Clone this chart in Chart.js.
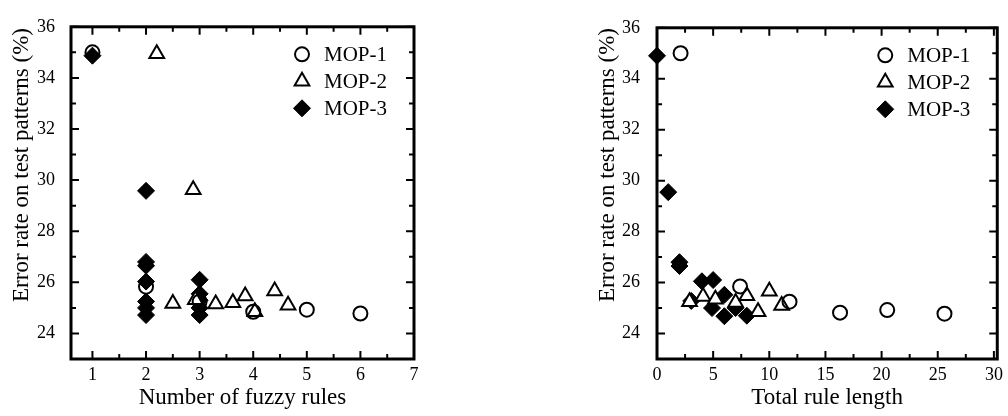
<!DOCTYPE html>
<html>
<head>
<meta charset="utf-8">
<script src="https://cdn.jsdelivr.net/npm/chart.js@4/dist/chart.umd.min.js"></script>
<style>
  html, body { margin: 0; padding: 0; background: #fff; }
  #wrap { position: relative; width: 1008px; height: 416px; }
  .pane { position: absolute; top: 0; width: 504px; height: 416px; }
  #paneL { left: 0; }
  #paneR { left: 504px; }
</style>
</head>
<body>
<div id="wrap">
  <div class="pane" id="paneL"><canvas id="rulesChart" width="504" height="416"></canvas></div>
  <div class="pane" id="paneR"><canvas id="lengthChart" width="504" height="416"></canvas></div>
</div>
<script>
// Series labels
const seriesNames = ['MOP-1', 'MOP-2', 'MOP-3'];

// Left panel: number of fuzzy rules vs. test error rate (%)
const rulesMop1X = [1, 2, 3, 4, 5, 6];
const rulesMop1Y = [35.0, 25.83, 25.25, 24.85, 24.93, 24.78];
const rulesMop2X = [2.2, 2.88, 2.5, 2.92, 3.3, 3.62, 3.85, 4.4, 4.65, 4.03];
const rulesMop2Y = [34.95, 29.62, 25.17, 25.32, 25.15, 25.2, 25.47, 25.66, 25.1, 24.85];
const rulesMop3X = [1, 2, 2, 2, 2, 2, 2, 2, 3, 3, 3, 3, 3];
const rulesMop3Y = [34.87, 29.58, 26.8, 26.65, 26.03, 25.25, 25.0, 24.72, 26.1, 25.55, 25.3, 25.0, 24.72];

// Right panel: total rule length vs. test error rate (%)
const lengthMop1X = [2.1, 7.4, 11.8, 16.3, 20.5, 25.6];
const lengthMop1Y = [35.0, 25.85, 25.25, 24.82, 24.92, 24.78];
const lengthMop2X = [2.9, 4.1, 5.2, 7.0, 8.0, 10.0, 11.1, 9.0];
const lengthMop2Y = [25.25, 25.45, 25.35, 25.22, 25.48, 25.66, 25.1, 24.85];
const lengthMop3X = [0, 1.0, 2.0, 2.0, 3.05, 4.0, 5.0, 4.9, 6.0, 6.0, 7.0, 8.0];
const lengthMop3Y = [34.9, 29.55, 26.8, 26.65, 25.28, 26.05, 26.1, 25.0, 25.52, 24.68, 25.0, 24.7];

// Tick values
const errorTicks = [24, 26, 28, 30, 32, 34, 36];
const errorMinor = [23, 25, 27, 29, 31, 33, 35];
const rulesTicks = [1, 2, 3, 4, 5, 6, 7];
const rulesMinor = [1.5, 2.5, 3.5, 4.5, 5.5, 6.5];
const lengthTicks = [0, 5, 10, 15, 20, 25, 30];
const lengthMinor = [2.5, 7.5, 12.5, 17.5, 22.5, 27.5];

const yTitleText = 'Error rate on test patterns (%)';
const FONT = "'Liberation Serif', 'Times New Roman', serif";

function pts(xs, ys) { return xs.map((x, i) => ({ x: x, y: ys[i] })); }

function seriesStyle(i) {
  if (i === 0) return { pointStyle: 'circle', pointRadius: 7, pointBorderWidth: 2,
    pointBackgroundColor: 'rgba(255,255,255,0)', pointBorderColor: '#000' };
  if (i === 1) return { pointStyle: 'triangle', pointRadius: 8.5, pointBorderWidth: 2,
    pointBackgroundColor: '#fff', pointBorderColor: '#000' };
  return { pointStyle: 'rectRot', pointRadius: 8.5, pointBorderWidth: 1,
    pointBackgroundColor: '#000', pointBorderColor: '#000' };
}

// Box frame plus inward tick marks on all four sides
const frameTicks = {
  id: 'frameTicks',
  beforeDatasetsDraw(chart, args, opts) {
    const { ctx, chartArea: a, scales: { x, y } } = chart;
    ctx.save();
    ctx.strokeStyle = '#000';
    ctx.lineWidth = 2;
    const major = 8, minor = 5;
    const xTick = (v, len) => {
      const p = x.getPixelForValue(v);
      ctx.beginPath();
      ctx.moveTo(p, a.bottom); ctx.lineTo(p, a.bottom - len);
      ctx.moveTo(p, a.top); ctx.lineTo(p, a.top + len);
      ctx.stroke();
    };
    const yTick = (v, len) => {
      const p = y.getPixelForValue(v);
      ctx.beginPath();
      ctx.moveTo(a.left, p); ctx.lineTo(a.left + len, p);
      ctx.moveTo(a.right, p); ctx.lineTo(a.right - len, p);
      ctx.stroke();
    };
    opts.xMajor.forEach(v => xTick(v, major));
    opts.xMinor.forEach(v => xTick(v, minor));
    opts.yMajor.forEach(v => yTick(v, major));
    opts.yMinor.forEach(v => yTick(v, minor));
    ctx.lineWidth = 3;
    ctx.strokeRect(a.left, a.top, a.right - a.left, a.bottom - a.top);
    ctx.restore();
  },
  afterDraw(chart, args, opts) {
    // vertical axis title
    const { ctx } = chart;
    ctx.save();
    ctx.translate(opts.titleX, opts.titleY);
    ctx.rotate(-Math.PI / 2);
    ctx.fillStyle = '#000';
    ctx.font = '23px ' + FONT;
    ctx.textAlign = 'center';
    ctx.textBaseline = 'middle';
    ctx.fillText(yTitleText, 0, 0);
    ctx.restore();
  }
};

// Legend drawn inside the plot, upper right
const innerLegend = {
  id: 'innerLegend',
  afterDatasetsDraw(chart) {
    const { ctx, chartArea: a } = chart;
    ctx.save();
    chart.data.datasets.forEach((ds, i) => {
      const mx = a.right - 112;
      const my = a.top + 27.5 + i * 27;
      ctx.fillStyle = ds.pointBackgroundColor;
      ctx.strokeStyle = ds.pointBorderColor;
      ctx.lineWidth = ds.pointBorderWidth;
      if (Chart.helpers && Chart.helpers.drawPoint) {
        Chart.helpers.drawPoint(ctx, { pointStyle: ds.pointStyle, radius: ds.pointRadius,
          borderWidth: ds.pointBorderWidth, rotation: 0 }, mx, my);
      }
      ctx.fillStyle = '#000';
      ctx.font = '21px ' + FONT;
      ctx.textAlign = 'left';
      ctx.textBaseline = 'middle';
      ctx.fillText(ds.label, mx + 22, my + 1);
    });
    ctx.restore();
  }
};

function makeChart(id, cfg) {
  const datasets = cfg.series.map((s, i) => Object.assign({
    label: seriesNames[i], data: pts(s[0], s[1]), clip: false, showLine: false
  }, seriesStyle(i)));
  return new Chart(document.getElementById(id), {
    type: 'scatter',
    data: { datasets: datasets },
    plugins: [frameTicks, innerLegend],
    options: {
      responsive: false,
      animation: false,
      events: [],
      layout: { padding: cfg.padding },
      plugins: {
        legend: { display: false },
        tooltip: { enabled: false },
        frameTicks: { xMajor: cfg.xTicks, xMinor: cfg.xMinor, yMajor: errorTicks, yMinor: errorMinor,
          titleX: cfg.yTitleX, titleY: 165 }
      },
      scales: {
        x: {
          type: 'linear', min: cfg.xMin, max: cfg.xMax,
          grid: { display: false, drawTicks: false },
          border: { display: false },
          afterBuildTicks: sc => { sc.ticks = cfg.xTicks.map(v => ({ value: v })); },
          afterFit: sc => { sc.height = 57; },
          ticks: { color: '#000', font: { family: FONT, size: 18 }, padding: 5, maxRotation: 0,
            callback: v => String(v) },
          title: { display: true, text: cfg.xTitle, color: '#000',
            font: { family: FONT, size: 23 }, padding: { top: 0, bottom: 4 } }
        },
        y: {
          type: 'linear', min: 23, max: 36,
          grid: { display: false, drawTicks: false },
          border: { display: false },
          afterBuildTicks: sc => { sc.ticks = errorTicks.map(v => ({ value: v })); },
          afterFit: sc => { sc.width = cfg.yWidth; },
          ticks: { color: '#000', font: { family: FONT, size: 18 }, padding: cfg.yPad,
            callback: v => String(v) },
          title: { display: false }
        }
      }
    }
  });
}

makeChart('rulesChart', {
  series: [[rulesMop1X, rulesMop1Y], [rulesMop2X, rulesMop2Y], [rulesMop3X, rulesMop3Y]],
  xMin: 0.6, xMax: 7, xTicks: rulesTicks, xMinor: rulesMinor,
  xTitle: 'Number of fuzzy rules',
  padding: { left: 0, right: 90, top: 13.5, bottom: 0 },
  yWidth: 71, yPad: 16, yTitleX: 22
});

makeChart('lengthChart', {
  series: [[lengthMop1X, lengthMop1Y], [lengthMop2X, lengthMop2Y], [lengthMop3X, lengthMop3Y]],
  xMin: 0, xMax: 30.3, xTicks: lengthTicks, xMinor: lengthMinor,
  xTitle: 'Total rule length',
  padding: { left: 0, right: 10, top: 13.5, bottom: 0 },
  yWidth: 153, yPad: 17, yTitleX: 104
});
</script>
</body>
</html>
